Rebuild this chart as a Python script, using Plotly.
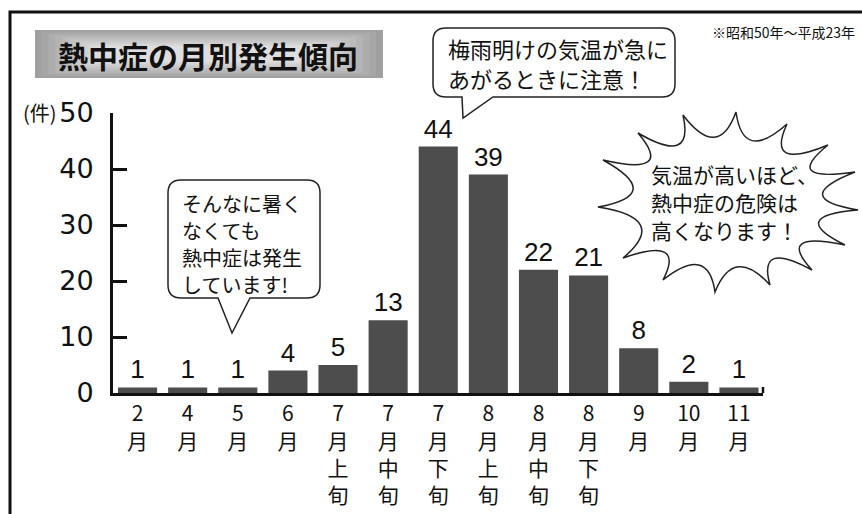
import plotly.graph_objects as go

# ---- data ----
categories = ["2月", "4月", "5月", "6月", "7月上旬", "7月中旬", "7月下旬",
              "8月上旬", "8月中旬", "8月下旬", "9月", "10月", "11月"]
tick_labels = ["2<br>月", "4<br>月", "5<br>月", "6<br>月", "7<br>月<br>上<br>旬",
               "7<br>月<br>中<br>旬", "7<br>月<br>下<br>旬", "8<br>月<br>上<br>旬",
               "8<br>月<br>中<br>旬", "8<br>月<br>下<br>旬", "9<br>月", "10<br>月", "11<br>月"]
counts = [1, 1, 1, 4, 5, 13, 44, 39, 22, 21, 8, 2, 1]
y_ticks = [0, 10, 20, 30, 40, 50]

title_text = "熱中症の月別発生傾向"
note_text = "※昭和50年～平成23年"
unit_text = "(件)"
bubble1_lines = ["そんなに暑く", "なくても", "熱中症は発生", "しています!"]
bubble2_lines = ["梅雨明けの気温が急に", "あがるときに注意！"]
burst_lines = ["気温が高いほど、", "熱中症の危険は", "高くなります！"]

# ---- layout geometry (pixels) ----
W, H = 862, 514
ML, MR, MT, MB = 113, 99, 113, 121
PW, PH = W - ML - MR, H - MT - MB

def px(x):
    return (x - ML) / PW

def py(y):
    return (H - MB - y) / PH

JP = "Noto Sans CJK JP"
NUM = "Liberation Sans, Noto Sans CJK JP"

fig = go.Figure()
fig.add_trace(go.Bar(
    x=list(range(len(categories))), y=counts,
    marker=dict(color="#4d4d4d", line=dict(width=0)),
    text=[str(c) for c in counts], textposition="outside",
    textfont=dict(family=NUM, size=26, color="#111"),
    constraintext="none", cliponaxis=False,
    hovertext=categories, width=0.78,
))

shapes = []

# outer frame (left and top)
shapes.append(dict(type="path", xref="paper", yref="paper",
                   path=f"M {px(10)} {py(520)} L {px(10)} {py(12)} L {px(870)} {py(12)}",
                   line=dict(color="#111", width=3)))

# title box gradient (nested rects)
x0, y0, x1, y1 = 35, 30, 383, 78
n = 10
for i in range(n):
    t = i / (n - 1)
    g = int(160 + (222 - 160) * t)
    dx = 60 * t
    dy = 16 * t
    shapes.append(dict(type="rect", xref="paper", yref="paper",
                       x0=px(x0 + dx), x1=px(x1 - dx), y0=py(y0 + dy), y1=py(y1 - dy),
                       fillcolor=f"rgb({g},{g},{g})", line=dict(width=0), layer="below"))

# x axis right-end small tick
shapes.append(dict(type="line", xref="paper", yref="paper",
                   x0=px(763), x1=px(763), y0=py(393), y1=py(387),
                   line=dict(color="#111", width=2.5)))


def bubble_path(x0, y0, x1, y1, r, tail):
    (tr, ty), (ax, ay), (tl, _) = tail
    pts = []
    pts.append(f"M {px(x0 + r)} {py(y0)}")
    pts.append(f"L {px(x1 - r)} {py(y0)}")
    pts.append(f"Q {px(x1)} {py(y0)} {px(x1)} {py(y0 + r)}")
    pts.append(f"L {px(x1)} {py(y1 - r)}")
    pts.append(f"Q {px(x1)} {py(y1)} {px(x1 - r)} {py(y1)}")
    pts.append(f"L {px(tr)} {py(y1)}")
    pts.append(f"L {px(ax)} {py(ay)}")
    pts.append(f"L {px(tl)} {py(y1)}")
    pts.append(f"L {px(x0 + r)} {py(y1)}")
    pts.append(f"Q {px(x0)} {py(y1)} {px(x0)} {py(y1 - r)}")
    pts.append(f"L {px(x0)} {py(y0 + r)}")
    pts.append(f"Q {px(x0)} {py(y0)} {px(x0 + r)} {py(y0)} Z")
    return " ".join(pts)

# bubble 1 (left)
shapes.append(dict(type="path", xref="paper", yref="paper",
                   path=bubble_path(168, 180, 320, 298, 13,
                                    ((250, 298), (232, 333), (218, 298))),
                   fillcolor="white", line=dict(color="#222", width=1.5)))
# bubble 2 (top)
shapes.append(dict(type="path", xref="paper", yref="paper",
                   path=bubble_path(433, 28, 675, 97, 13,
                                    ((493, 97), (463, 118), (462, 97))),
                   fillcolor="white", line=dict(color="#222", width=1.5)))

# starburst
tips = [(603, 160), (638, 133), (683, 115), (736, 112), (787, 124), (828, 145),
        (855, 172), (858, 210), (845, 245), (812, 270), (770, 285), (715, 292),
        (663, 280), (623, 258), (598, 207)]
cx, cy = 726, 205
fac = 0.74
segs = [f"M {px(tips[0][0])} {py(tips[0][1])}"]
for i in range(len(tips)):
    a = tips[i]
    b = tips[(i + 1) % len(tips)]
    mx, my = (a[0] + b[0]) / 2, (a[1] + b[1]) / 2
    vx, vy = cx + fac * (mx - cx), cy + fac * (my - cy)
    qx, qy = 2 * vx - mx, 2 * vy - my
    segs.append(f"Q {px(qx)} {py(qy)} {px(b[0])} {py(b[1])}")
segs.append("Z")
shapes.append(dict(type="path", xref="paper", yref="paper", path=" ".join(segs),
                   fillcolor="white", line=dict(color="#222", width=1.5)))

annotations = [
    dict(text=f"<b>{title_text}</b>", xref="paper", yref="paper", x=px(208), y=py(55),
         xanchor="center", yanchor="middle", showarrow=False,
         font=dict(family=JP, size=30, color="#111")),
    dict(text=note_text, xref="paper", yref="paper", x=px(857), y=py(32),
         xanchor="right", yanchor="middle", showarrow=False,
         font=dict(family=JP, size=14, color="#111")),
    dict(text=unit_text, xref="paper", yref="paper", x=px(59), y=py(112),
         xanchor="right", yanchor="middle", showarrow=False,
         font=dict(family=JP, size=20, color="#111")),
]


def add_lines(lines, x, y_first, step, size):
    for i, s in enumerate(lines):
        annotations.append(dict(text=s, xref="paper", yref="paper",
                                x=px(x), y=py(y_first + i * step),
                                xanchor="left", yanchor="middle", showarrow=False,
                                borderpad=0,
                                font=dict(family=JP, size=size, color="#111")))


add_lines(bubble1_lines, 181, 203, 27, 20)
add_lines(bubble2_lines, 447, 48, 30, 22)
add_lines(burst_lines, 650, 174, 28, 21)

fig.update_layout(
    width=W, height=H,
    margin=dict(l=ML, r=MR, t=MT, b=MB, pad=0),
    paper_bgcolor="white", plot_bgcolor="white",
    showlegend=False,
    shapes=shapes, annotations=annotations,
    xaxis=dict(range=[-0.49, 12.48], tickmode="array",
               tickvals=list(range(len(categories))), ticktext=tick_labels,
               showline=True, linecolor="#111", linewidth=3, ticks="",
               showgrid=False, zeroline=False, tickangle=0, automargin=False,
               tickfont=dict(family=JP, size=21, color="#111"),
               fixedrange=True),
    yaxis=dict(range=[0, 50], tickmode="array", tickvals=y_ticks,
               showline=True, linecolor="#111", linewidth=3, automargin=False,
               ticks="inside", ticklen=14, tickwidth=3, tickcolor="#111",
               showgrid=False, zeroline=False, ticklabelstandoff=11,
               tickfont=dict(family="DejaVu Sans", size=27, color="#111"),
               fixedrange=True),
    font=dict(family=JP),
)

fig.write_html("out.html")
